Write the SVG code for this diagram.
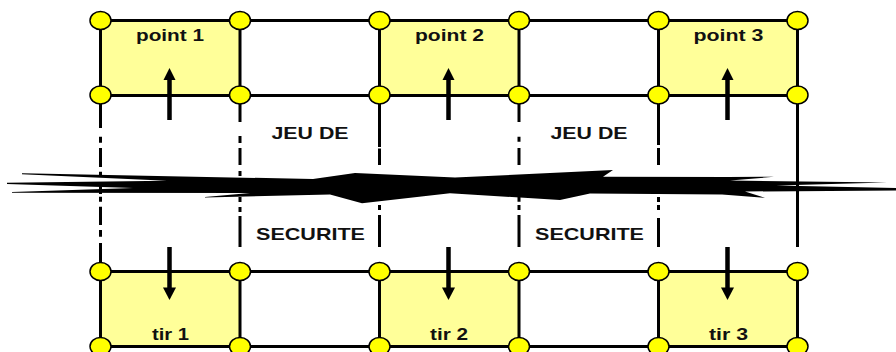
<svg xmlns="http://www.w3.org/2000/svg" width="896" height="352" viewBox="0 0 896 352">
  <style>
    .cell { fill: #FFFF99; stroke: none; }
    .grid { stroke: #000; stroke-width: 3; fill: none; }
    .guide { stroke: #000; stroke-width: 3; fill: none; }
    .shaft { stroke: #000; stroke-width: 4.5; fill: none; }
    .head { fill: #000; }
    .knot { fill: #FFFF00; stroke: #000; stroke-width: 1.5; }
    .lbl { font-family: "Liberation Sans", Arial, sans-serif; font-weight: bold; font-size: 17px; fill: #111; text-anchor: middle; }
  </style>

  <!-- upper row of cells -->
  <g id="point1">
    <rect class="cell" x="100.5" y="20.5" width="139.5" height="75"/>
    <text class="lbl" x="170" y="41" textLength="68" lengthAdjust="spacingAndGlyphs">point 1</text>
  </g>
  <g id="point2">
    <rect class="cell" x="379.5" y="20.5" width="139.5" height="75"/>
    <text class="lbl" x="449.5" y="41" textLength="69" lengthAdjust="spacingAndGlyphs">point 2</text>
  </g>
  <g id="point3">
    <rect class="cell" x="658.5" y="20.5" width="139" height="75"/>
    <text class="lbl" x="728.5" y="41" textLength="70" lengthAdjust="spacingAndGlyphs">point 3</text>
  </g>

  <!-- lower row of cells -->
  <g id="tir1">
    <rect class="cell" x="100.5" y="271.5" width="139.5" height="75"/>
    <text class="lbl" x="170.5" y="340" textLength="37" lengthAdjust="spacingAndGlyphs">tir 1</text>
  </g>
  <g id="tir2">
    <rect class="cell" x="379.5" y="271.5" width="139.5" height="75"/>
    <text class="lbl" x="449" y="340" textLength="38" lengthAdjust="spacingAndGlyphs">tir 2</text>
  </g>
  <g id="tir3">
    <rect class="cell" x="658.5" y="271.5" width="139" height="75"/>
    <text class="lbl" x="728.5" y="340" textLength="39" lengthAdjust="spacingAndGlyphs">tir 3</text>
  </g>

  <!-- the break across the middle band -->
  <path id="fracture" fill="#000" d="M22,173.3 L313,179 L355,173 L455,177.5 L613,170 L603,176.8 L728,177 L774,176.8 L730,180.5 L887,182.6 L776,185.5 L896,188 L896,190.5 L745,191.5 L765,197.8 L722,194.5 L590,193.5 L560,200 L450,193.3 L362,203.3 L330,194.5 L205,197.5 L205,197 L250,193 L12,192.8 L12,192 L133,188 L7,184 L7,182.8 L167,180.8 L22,174.3 Z"/>

  <g id="connectors">
    <!-- row lines -->
    <path class="grid" d="M100.5,20.5 H797.5 M100.5,95.5 H797.5 M100.5,271.5 H797.5 M100.5,346.5 H797.5"/>
    <!-- cell sides -->
    <path class="grid" d="M100.5,20.5 V95.5 M240,20.5 V95.5 M379.5,20.5 V95.5 M519,20.5 V95.5 M658.5,20.5 V95.5 M797.5,20.5 V95.5"/>
    <path class="grid" d="M100.5,271.5 V346.5 M240,271.5 V346.5 M379.5,271.5 V346.5 M519,271.5 V346.5 M658.5,271.5 V346.5 M797.5,271.5 V346.5"/>

    <!-- dash-dot guides through the safety band -->
    <path class="guide" d="M100.5,95 V128 M100.5,136.7 V142.7 M100.5,148 V167 M100.5,171.7 V176 M100.5,182 V194 M100.5,196.7 V201.7 M100.5,206.7 V225 M100.5,230 V236.7 M100.5,243 V271"/>
    <path class="guide" d="M240,95 V122 M240,136 V143 M240,148 V165 M240,171 V176 M240,197 V202 M240,207 V212 M240,216 V247"/>
    <path class="guide" d="M379.5,95 V147 M379.5,148.5 V165 M379.5,205 V210 M379.5,215 V247"/>
    <path class="guide" d="M519,95 V122 M519,136.7 V141.7 M519,148 V165 M519,196.7 V201.7 M519,205 V210 M519,215 V247"/>
    <path class="guide" d="M658.5,95 V145 M658.5,148 V165 M658.5,197 V202 M658.5,205 V210 M658.5,218 V247"/>
    <path class="guide" d="M797.5,95 V247"/>

    <!-- upward arrows in the point cells -->
    <path class="shaft" d="M169.5,79 V120 M448.5,79 V120 M727.5,79 V120"/>
    <polygon class="head" points="169.5,68 163.5,80 175.5,80"/>
    <polygon class="head" points="448.5,68 442.5,80 454.5,80"/>
    <polygon class="head" points="727.5,68 721.5,80 733.5,80"/>

    <!-- downward arrows into the tir cells -->
    <path class="shaft" d="M169.5,247 V289 M448.5,247 V289 M727.5,247 V289"/>
    <polygon class="head" points="169.5,300 163,287.5 176,287.5"/>
    <polygon class="head" points="448.5,300 442,287.5 455,287.5"/>
    <polygon class="head" points="727.5,300 721,287.5 734,287.5"/>
  </g>

  <!-- corner knots -->
  <g id="knots">
    <ellipse class="knot" cx="100.5" cy="20.5" rx="10.5" ry="9"/>
    <ellipse class="knot" cx="240" cy="20.5" rx="10.5" ry="9"/>
    <ellipse class="knot" cx="379.5" cy="20.5" rx="10.5" ry="9"/>
    <ellipse class="knot" cx="519" cy="20.5" rx="10.5" ry="9"/>
    <ellipse class="knot" cx="658.5" cy="20.5" rx="10.5" ry="9"/>
    <ellipse class="knot" cx="797.5" cy="20.5" rx="10.5" ry="9"/>
    <ellipse class="knot" cx="100.5" cy="95" rx="10.5" ry="9"/>
    <ellipse class="knot" cx="240" cy="95" rx="10.5" ry="9"/>
    <ellipse class="knot" cx="379.5" cy="95" rx="10.5" ry="9"/>
    <ellipse class="knot" cx="519" cy="95" rx="10.5" ry="9"/>
    <ellipse class="knot" cx="658.5" cy="95" rx="10.5" ry="9"/>
    <ellipse class="knot" cx="797.5" cy="95" rx="10.5" ry="9"/>
    <ellipse class="knot" cx="100.5" cy="271.5" rx="10.5" ry="9"/>
    <ellipse class="knot" cx="240" cy="271.5" rx="10.5" ry="9"/>
    <ellipse class="knot" cx="379.5" cy="271.5" rx="10.5" ry="9"/>
    <ellipse class="knot" cx="519" cy="271.5" rx="10.5" ry="9"/>
    <ellipse class="knot" cx="658.5" cy="271.5" rx="10.5" ry="9"/>
    <ellipse class="knot" cx="797.5" cy="271.5" rx="10.5" ry="9"/>
    <ellipse class="knot" cx="100.5" cy="346.5" rx="10.5" ry="9"/>
    <ellipse class="knot" cx="240" cy="346.5" rx="10.5" ry="9"/>
    <ellipse class="knot" cx="379.5" cy="346.5" rx="10.5" ry="9"/>
    <ellipse class="knot" cx="519" cy="346.5" rx="10.5" ry="9"/>
    <ellipse class="knot" cx="658.5" cy="346.5" rx="10.5" ry="9"/>
    <ellipse class="knot" cx="797.5" cy="346.5" rx="10.5" ry="9"/>
  </g>

  <!-- band labels -->
  <g id="band1">
    <text class="lbl" x="310" y="139" textLength="77" lengthAdjust="spacingAndGlyphs">JEU DE</text>
    <text class="lbl" x="310.5" y="240" textLength="109" lengthAdjust="spacingAndGlyphs">SECURITE</text>
  </g>
  <g id="band2">
    <text class="lbl" x="589" y="139" textLength="77" lengthAdjust="spacingAndGlyphs">JEU DE</text>
    <text class="lbl" x="589.5" y="240" textLength="109" lengthAdjust="spacingAndGlyphs">SECURITE</text>
  </g>
</svg>
